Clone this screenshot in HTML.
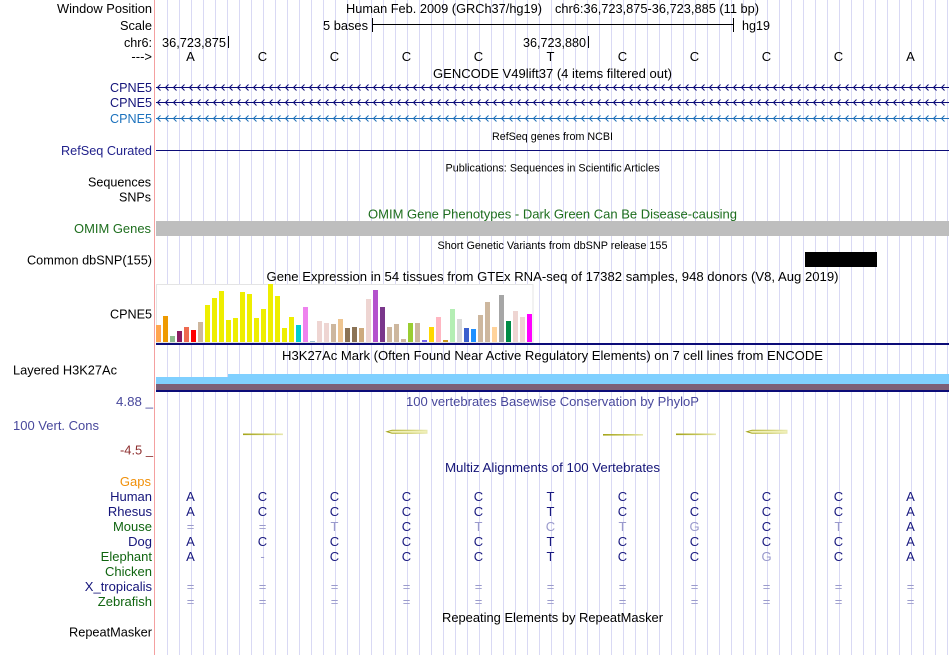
<!DOCTYPE html>
<html><head><meta charset="utf-8"><style>
html,body{margin:0;padding:0;background:#fff;width:950px;height:655px;overflow:hidden}
svg{display:block}
</style></head><body>
<svg width="950" height="655" xmlns="http://www.w3.org/2000/svg" font-family="'Liberation Sans', Arial, sans-serif" font-size="13">
<defs>
<pattern id="grid" x="167" y="0" width="12" height="655" patternUnits="userSpaceOnUse"><rect width="1" height="655" fill="#d9d9f4"/></pattern>
<pattern id="ch1" x="157" y="84" width="8" height="7" patternUnits="userSpaceOnUse"><path d="M3.5 0.5L0.5 3.5L3.5 6.5" fill="none" stroke="#0c0c78" stroke-width="1"/></pattern>
<pattern id="ch2" x="157" y="99" width="8" height="7" patternUnits="userSpaceOnUse"><path d="M3.5 0.5L0.5 3.5L3.5 6.5" fill="none" stroke="#0c0c78" stroke-width="1"/></pattern>
<pattern id="ch3" x="157" y="115" width="8" height="7" patternUnits="userSpaceOnUse"><path d="M3.5 0.5L0.5 3.5L3.5 6.5" fill="none" stroke="#2070b8" stroke-width="1"/></pattern>
<linearGradient id="ol" x1="0" x2="1" y1="0" y2="0"><stop offset="0" stop-color="#a4a418"/><stop offset="0.6" stop-color="#c8c860"/><stop offset="1" stop-color="#e8e8b0"/></linearGradient>
</defs>
<rect width="950" height="655" fill="#fff"/>
<rect x="156" y="0" width="794" height="655" fill="url(#grid)"/>
<rect x="154" y="0" width="1" height="655" fill="#f4a0a0"/>

<!-- header -->
<g fill="#000">
<text x="152" y="13" text-anchor="end" textLength="95" lengthAdjust="spacingAndGlyphs">Window Position</text>
<text x="346" y="13" textLength="196" lengthAdjust="spacingAndGlyphs">Human Feb. 2009 (GRCh37/hg19)</text>
<text x="555" y="13" textLength="204" lengthAdjust="spacingAndGlyphs">chr6:36,723,875-36,723,885 (11 bp)</text>
<text x="152" y="30" text-anchor="end" textLength="32" lengthAdjust="spacingAndGlyphs">Scale</text>
<text x="323" y="30" textLength="45" lengthAdjust="spacingAndGlyphs">5 bases</text>
<text x="742" y="30" textLength="28" lengthAdjust="spacingAndGlyphs">hg19</text>
<rect x="373" y="24" width="360" height="1"/>
<rect x="372" y="18" width="1" height="14"/>
<rect x="733" y="18" width="1" height="14"/>
<text x="152" y="47" text-anchor="end" textLength="28" lengthAdjust="spacingAndGlyphs">chr6:</text>
<text x="162" y="47" textLength="64" lengthAdjust="spacingAndGlyphs">36,723,875</text>
<rect x="228" y="36" width="1" height="12"/>
<text x="523" y="47" textLength="63" lengthAdjust="spacingAndGlyphs">36,723,880</text>
<rect x="588" y="36" width="1" height="12"/>
<text x="152" y="61" text-anchor="end">---&gt;</text>
<g text-anchor="middle">
<text x="190.5" y="61">A</text><text x="262.5" y="61">C</text><text x="334.5" y="61">C</text><text x="406.5" y="61">C</text><text x="478.5" y="61">C</text><text x="550.5" y="61">T</text><text x="622.5" y="61">C</text><text x="694.5" y="61">C</text><text x="766.5" y="61">C</text><text x="838.5" y="61">C</text><text x="910.5" y="61">A</text>
</g>
<text x="552.5" y="78" text-anchor="middle" textLength="239" lengthAdjust="spacingAndGlyphs">GENCODE V49lift37 (4 items filtered out)</text>
</g>

<!-- GENCODE rows -->
<rect x="156" y="87" width="793" height="1" fill="#0c0c78"/>
<rect x="156" y="84" width="793" height="7" fill="url(#ch1)"/>
<rect x="156" y="102" width="793" height="1" fill="#0c0c78"/>
<rect x="156" y="99" width="793" height="7" fill="url(#ch2)"/>
<rect x="156" y="118" width="793" height="1" fill="#2070b8"/>
<rect x="156" y="115" width="793" height="7" fill="url(#ch3)"/>
<text x="152" y="92" text-anchor="end" fill="#14147a" textLength="42" lengthAdjust="spacingAndGlyphs">CPNE5</text>
<text x="152" y="107" text-anchor="end" fill="#14147a" textLength="42" lengthAdjust="spacingAndGlyphs">CPNE5</text>
<text x="152" y="123" text-anchor="end" fill="#1c72bd" textLength="42" lengthAdjust="spacingAndGlyphs">CPNE5</text>

<!-- RefSeq -->
<text x="552.5" y="140" text-anchor="middle" font-size="11" textLength="121" lengthAdjust="spacingAndGlyphs">RefSeq genes from NCBI</text>
<text x="152" y="155" text-anchor="end" fill="#22228c" textLength="91" lengthAdjust="spacingAndGlyphs">RefSeq Curated</text>
<rect x="156" y="150" width="793" height="1" fill="#0c0c78"/>

<!-- Publications -->
<text x="552.5" y="171.5" text-anchor="middle" font-size="11" textLength="214" lengthAdjust="spacingAndGlyphs">Publications: Sequences in Scientific Articles</text>
<text x="151" y="186.5" text-anchor="end" textLength="63" lengthAdjust="spacingAndGlyphs">Sequences</text>
<text x="151" y="201.5" text-anchor="end" textLength="32" lengthAdjust="spacingAndGlyphs">SNPs</text>

<!-- OMIM -->
<text x="552.5" y="218.5" text-anchor="middle" fill="#1e6e1e" textLength="369" lengthAdjust="spacingAndGlyphs">OMIM Gene Phenotypes - Dark Green Can Be Disease-causing</text>
<rect x="156" y="221" width="793" height="15" fill="#bebebe"/>
<text x="151" y="233" text-anchor="end" fill="#1e6e1e" textLength="77" lengthAdjust="spacingAndGlyphs">OMIM Genes</text>

<!-- dbSNP -->
<text x="552.5" y="249" text-anchor="middle" font-size="11" textLength="230" lengthAdjust="spacingAndGlyphs">Short Genetic Variants from dbSNP release 155</text>
<text x="152" y="264.5" text-anchor="end" textLength="125" lengthAdjust="spacingAndGlyphs">Common dbSNP(155)</text>
<rect x="805" y="252" width="72" height="15" fill="#000"/>

<!-- GTEx -->
<text x="552.5" y="281" text-anchor="middle" textLength="572" lengthAdjust="spacingAndGlyphs">Gene Expression in 54 tissues from GTEx RNA-seq of 17382 samples, 948 donors (V8, Aug 2019)</text>
<rect x="156.5" y="284.5" width="376.5" height="58" fill="#fff" stroke="#e4e4e4" stroke-width="1"/>
<g>
<rect x="156" y="325" width="5" height="17" fill="#FFA54F"/>
<rect x="163" y="316" width="5" height="26" fill="#EE9A00"/>
<rect x="170" y="336" width="5" height="6" fill="#8FBC8F"/>
<rect x="177" y="331" width="5" height="11" fill="#8B1C62"/>
<rect x="184" y="327" width="5" height="15" fill="#EE6A50"/>
<rect x="191" y="330" width="5" height="12" fill="#FF0000"/>
<rect x="198" y="322" width="5" height="20" fill="#CDB79E"/>
<rect x="205" y="305" width="5" height="37" fill="#EEEE00"/>
<rect x="212" y="298" width="5" height="44" fill="#EEEE00"/>
<rect x="219" y="291" width="5" height="51" fill="#EEEE00"/>
<rect x="226" y="320" width="5" height="22" fill="#EEEE00"/>
<rect x="233" y="318" width="5" height="24" fill="#EEEE00"/>
<rect x="240" y="292" width="5" height="50" fill="#EEEE00"/>
<rect x="247" y="294" width="5" height="48" fill="#EEEE00"/>
<rect x="254" y="318" width="5" height="24" fill="#EEEE00"/>
<rect x="261" y="309" width="5" height="33" fill="#EEEE00"/>
<rect x="268" y="284" width="5" height="58" fill="#EEEE00"/>
<rect x="275" y="296" width="5" height="46" fill="#EEEE00"/>
<rect x="282" y="328" width="5" height="14" fill="#EEEE00"/>
<rect x="289" y="317" width="5" height="25" fill="#EEEE00"/>
<rect x="296" y="325" width="5" height="17" fill="#00CED1"/>
<rect x="303" y="307" width="5" height="35" fill="#EE82EE"/>
<rect x="310" y="341" width="5" height="1" fill="#9AC0CD"/>
<rect x="317" y="321" width="5" height="21" fill="#EED5D2"/>
<rect x="324" y="323" width="5" height="19" fill="#EED5D2"/>
<rect x="331" y="324" width="5" height="18" fill="#CDB79E"/>
<rect x="338" y="319" width="5" height="23" fill="#EEC591"/>
<rect x="345" y="328" width="5" height="14" fill="#8B7355"/>
<rect x="352" y="327" width="5" height="15" fill="#8B7355"/>
<rect x="359" y="328" width="5" height="14" fill="#CDAA7D"/>
<rect x="366" y="299" width="5" height="43" fill="#EED5D2"/>
<rect x="373" y="290" width="5" height="52" fill="#B452CD"/>
<rect x="380" y="307" width="5" height="35" fill="#7A378B"/>
<rect x="387" y="327" width="5" height="15" fill="#CDB79E"/>
<rect x="394" y="324" width="5" height="18" fill="#CDB79E"/>
<rect x="401" y="339" width="5" height="3" fill="#CDB79E"/>
<rect x="408" y="323" width="5" height="19" fill="#9ACD32"/>
<rect x="415" y="323" width="5" height="19" fill="#CDB79E"/>
<rect x="422" y="340" width="5" height="2" fill="#7A67EE"/>
<rect x="429" y="327" width="5" height="15" fill="#FFD700"/>
<rect x="436" y="317" width="5" height="25" fill="#FFB6C1"/>
<rect x="443" y="340" width="5" height="2" fill="#CD9B1D"/>
<rect x="450" y="309" width="5" height="33" fill="#B4EEB4"/>
<rect x="457" y="319" width="5" height="23" fill="#D9D9D9"/>
<rect x="464" y="328" width="5" height="14" fill="#3A5FCD"/>
<rect x="471" y="329" width="5" height="13" fill="#1E90FF"/>
<rect x="478" y="315" width="5" height="27" fill="#CDB79E"/>
<rect x="485" y="302" width="5" height="40" fill="#CDB79E"/>
<rect x="492" y="327" width="5" height="15" fill="#FFD39B"/>
<rect x="499" y="295" width="5" height="47" fill="#A6A6A6"/>
<rect x="506" y="321" width="5" height="21" fill="#008B45"/>
<rect x="513" y="311" width="5" height="31" fill="#EED5D2"/>
<rect x="520" y="317" width="5" height="25" fill="#EED5D2"/>
<rect x="527" y="314" width="5" height="28" fill="#FF00FF"/>
</g>
<rect x="156" y="343" width="793" height="2" fill="#0c0c78"/>
<text x="152" y="318.5" text-anchor="end" textLength="42" lengthAdjust="spacingAndGlyphs">CPNE5</text>

<!-- H3K27Ac -->
<text x="552.5" y="360" text-anchor="middle" textLength="541" lengthAdjust="spacingAndGlyphs">H3K27Ac Mark (Often Found Near Active Regulatory Elements) on 7 cell lines from ENCODE</text>
<text x="13" y="374.5" textLength="104" lengthAdjust="spacingAndGlyphs">Layered H3K27Ac</text>
<rect x="156" y="377" width="72" height="7" fill="#80D0FF"/>
<rect x="228" y="374" width="721" height="10" fill="#80D0FF"/>
<rect x="156" y="384" width="793" height="6" fill="#7d6078"/>
<rect x="156" y="390" width="793" height="2" fill="#0c0c78"/>

<!-- Conservation -->
<text x="552.5" y="406" text-anchor="middle" fill="#48489c" textLength="293" lengthAdjust="spacingAndGlyphs">100 vertebrates Basewise Conservation by PhyloP</text>
<text x="153" y="406" text-anchor="end" fill="#48489c" textLength="37" lengthAdjust="spacingAndGlyphs">4.88 _</text>
<text x="13" y="430" fill="#48489c" textLength="86" lengthAdjust="spacingAndGlyphs">100 Vert. Cons</text>
<text x="153" y="454.5" text-anchor="end" fill="#8e3030" textLength="33" lengthAdjust="spacingAndGlyphs">-4.5 _</text>
<rect x="243" y="433.5" width="40" height="1.6" fill="url(#ol)"/>
<rect x="603" y="434" width="40" height="1.6" fill="url(#ol)"/>
<rect x="676" y="433.5" width="40" height="1.6" fill="url(#ol)"/>
<path d="M387 431.7L392 430.2L427 430.2L427 433.2L392 433.2Z" fill="#f0f0b8" stroke="url(#ol)" stroke-width="1"/>
<path d="M747 431.7L752 430.2L787 430.2L787 433.2L752 433.2Z" fill="#f0f0b8" stroke="url(#ol)" stroke-width="1"/>

<!-- Multiz -->
<text x="552.5" y="472" text-anchor="middle" fill="#141478" textLength="215" lengthAdjust="spacingAndGlyphs">Multiz Alignments of 100 Vertebrates</text>
<g text-anchor="end">
<text x="151" y="486" fill="#f0900a">Gaps</text>
<text x="152" y="501" fill="#14147a">Human</text>
<text x="152" y="516" fill="#14147a">Rhesus</text>
<text x="152" y="531" fill="#0f640f">Mouse</text>
<text x="152" y="546" fill="#14147a">Dog</text>
<text x="152" y="561" fill="#0f640f">Elephant</text>
<text x="152" y="576" fill="#0f640f">Chicken</text>
<text x="152" y="591" fill="#14147a">X_tropicalis</text>
<text x="152" y="606" fill="#0f640f">Zebrafish</text>
</g>
<g text-anchor="middle" fill="#1a1a80">
<!-- Human -->
<text x="190.5" y="501">A</text><text x="262.5" y="501">C</text><text x="334.5" y="501">C</text><text x="406.5" y="501">C</text><text x="478.5" y="501">C</text><text x="550.5" y="501">T</text><text x="622.5" y="501">C</text><text x="694.5" y="501">C</text><text x="766.5" y="501">C</text><text x="838.5" y="501">C</text><text x="910.5" y="501">A</text>
<!-- Rhesus -->
<text x="190.5" y="516">A</text><text x="262.5" y="516">C</text><text x="334.5" y="516">C</text><text x="406.5" y="516">C</text><text x="478.5" y="516">C</text><text x="550.5" y="516">T</text><text x="622.5" y="516">C</text><text x="694.5" y="516">C</text><text x="766.5" y="516">C</text><text x="838.5" y="516">C</text><text x="910.5" y="516">A</text>
<!-- Mouse -->
<text x="190.5" y="531" fill="#9a9acc">=</text><text x="262.5" y="531" fill="#9a9acc">=</text><text x="334.5" y="531" fill="#9a9acc">T</text><text x="406.5" y="531">C</text><text x="478.5" y="531" fill="#9a9acc">T</text><text x="550.5" y="531" fill="#9a9acc">C</text><text x="622.5" y="531" fill="#9a9acc">T</text><text x="694.5" y="531" fill="#9a9acc">G</text><text x="766.5" y="531">C</text><text x="838.5" y="531" fill="#9a9acc">T</text><text x="910.5" y="531">A</text>
<!-- Dog -->
<text x="190.5" y="546">A</text><text x="262.5" y="546">C</text><text x="334.5" y="546">C</text><text x="406.5" y="546">C</text><text x="478.5" y="546">C</text><text x="550.5" y="546">T</text><text x="622.5" y="546">C</text><text x="694.5" y="546">C</text><text x="766.5" y="546">C</text><text x="838.5" y="546">C</text><text x="910.5" y="546">A</text>
<!-- Elephant -->
<text x="190.5" y="561">A</text><text x="262.5" y="561" fill="#9a9acc">-</text><text x="334.5" y="561">C</text><text x="406.5" y="561">C</text><text x="478.5" y="561">C</text><text x="550.5" y="561">T</text><text x="622.5" y="561">C</text><text x="694.5" y="561">C</text><text x="766.5" y="561" fill="#9a9acc">G</text><text x="838.5" y="561">C</text><text x="910.5" y="561">A</text>
</g>
<g text-anchor="middle" fill="#9a9acc">
<text x="190.5" y="591">=</text><text x="262.5" y="591">=</text><text x="334.5" y="591">=</text><text x="406.5" y="591">=</text><text x="478.5" y="591">=</text><text x="550.5" y="591">=</text><text x="622.5" y="591">=</text><text x="694.5" y="591">=</text><text x="766.5" y="591">=</text><text x="838.5" y="591">=</text><text x="910.5" y="591">=</text>
<text x="190.5" y="606">=</text><text x="262.5" y="606">=</text><text x="334.5" y="606">=</text><text x="406.5" y="606">=</text><text x="478.5" y="606">=</text><text x="550.5" y="606">=</text><text x="622.5" y="606">=</text><text x="694.5" y="606">=</text><text x="766.5" y="606">=</text><text x="838.5" y="606">=</text><text x="910.5" y="606">=</text>
</g>

<!-- RepeatMasker -->
<text x="552.5" y="622" text-anchor="middle" textLength="221" lengthAdjust="spacingAndGlyphs">Repeating Elements by RepeatMasker</text>
<text x="152" y="636.5" text-anchor="end" textLength="83" lengthAdjust="spacingAndGlyphs">RepeatMasker</text>
</svg>
</body></html>
